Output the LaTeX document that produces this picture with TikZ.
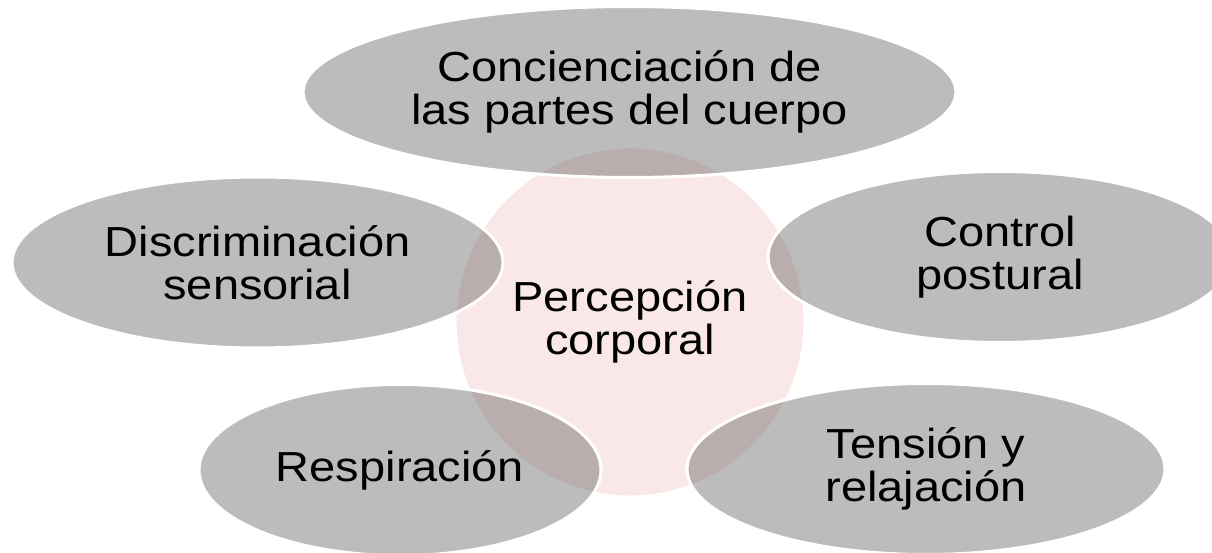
\documentclass[tikz,border=0pt]{standalone}
\usepackage{fontspec}
\setmainfont{Liberation Sans}[FakeStretch=1.12]
\usetikzlibrary{shapes.geometric}
\definecolor{corefill}{RGB}{250,232,232}

\begin{document}
\begin{tikzpicture}[x=0.02cm,y=-0.02cm,
  bubble/.style={ellipse,draw=white,line width=0.06cm,fill=black!75,fill opacity=.35,
    text opacity=1,align=center,font=\fontsize{23.9}{24.5}\selectfont,minimum height=3.42cm},
  core/.style={circle,draw=white,line width=0.06cm,fill=corefill,minimum size=7cm,
    align=center,font=\fontsize{23.9}{24.5}\selectfont}]
\useasboundingbox (0,0) rectangle (1212,553);
\node[core] (perc) at (630,322) {Percepción\\corporal};
\node[bubble,minimum width=13.06cm] (conc) at (629.5,92) {Concienciación de\\las partes del cuerpo};
\node[bubble,minimum width=9.82cm] (disc) at (257.5,262.5) {Discriminación\\sensorial};
\node[bubble,minimum width=9.28cm] (ctrl) at (1000,257) {Control\\postural};
\node[bubble,minimum width=8.04cm] (resp) at (400,470) {Respiración};
\node[bubble,minimum width=9.56cm] (tens) at (926,469) {Tensión y\\relajación};
\end{tikzpicture}
\end{document}
